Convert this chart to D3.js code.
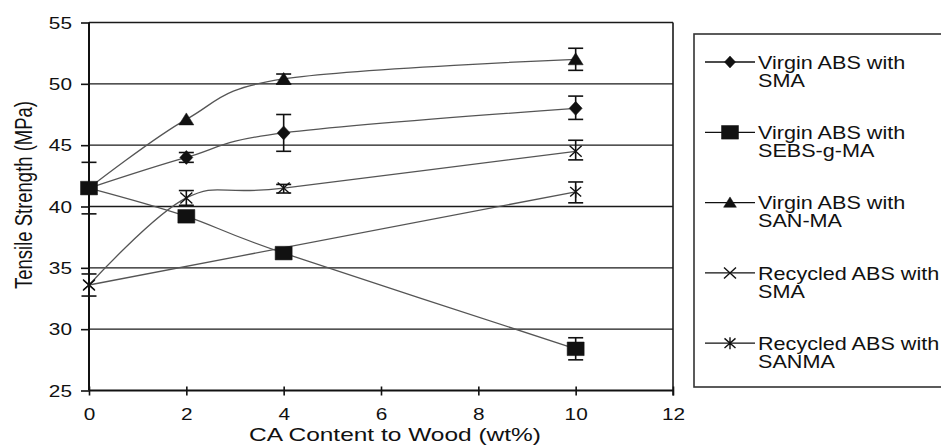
<!DOCTYPE html>
<html><head><meta charset="utf-8">
<script src="https://cdn.jsdelivr.net/npm/d3@7"></script>
<style>body{margin:0;background:#fff}svg{display:block}text{font-family:"Liberation Sans",Arial,sans-serif;fill:#111}</style>
</head><body><svg id="c" width="941" height="446"></svg>
<script>
// ---- data ----
const xTicks = [0, 2, 4, 6, 8, 10, 12];
const yTicks = [25, 30, 35, 40, 45, 50, 55];
const xVals = [0, 2, 4, 10];
const seriesNames = ["Virgin ABS with|SMA", "Virgin ABS with|SEBS-g-MA", "Virgin ABS with|SAN-MA", "Recycled ABS with|SMA", "Recycled ABS with|SANMA"];
const markers = ["diamond", "square", "triangle", "x", "star"];
const virginSMA = [41.5, 44.0, 46.0, 48.0];
const virginSMAErrLow = [39.4, 43.6, 44.5, 47.1];
const virginSMAErrHigh = [43.6, 44.4, 47.5, 49.0];
const virginSEBS = [41.5, 39.2, 36.2, 28.4];
const virginSEBSErrLow = [null, null, null, 27.5];
const virginSEBSErrHigh = [null, null, null, 29.3];
const virginSAN = [41.5, 47.1, 50.4, 52.0];
const virginSANErrLow = [null, null, 50.0, 51.1];
const virginSANErrHigh = [null, null, 50.8, 52.9];
const recycledSMA = [33.6, 40.7, 41.5, 44.5];
const recycledSMAErrLow = [32.7, 40.1, 41.1, 43.8];
const recycledSMAErrHigh = [34.5, 41.3, 41.8, 45.4];
const recSANMAx = [0, 10];
const recycledSANMA = [33.6, 41.2];
const recycledSANMAErrLow = [null, 40.3];
const recycledSANMAErrHigh = [null, 42.0];

const series = [
  {xs: xVals, ys: virginSMA, lo: virginSMAErrLow, hi: virginSMAErrHigh},
  {xs: xVals, ys: virginSEBS, lo: virginSEBSErrLow, hi: virginSEBSErrHigh},
  {xs: xVals, ys: virginSAN, lo: virginSANErrLow, hi: virginSANErrHigh},
  {xs: xVals, ys: recycledSMA, lo: recycledSMAErrLow, hi: recycledSMAErrHigh},
  {xs: recSANMAx, ys: recycledSANMA, lo: recycledSANMAErrLow, hi: recycledSANMAErrHigh}
].map((s, i) => ({...s, name: seriesNames[i], marker: markers[i]}));

// ---- layout ----
const svg = d3.select("#c");
const L = 89, R = 673, T = 22.5, B = 390.5;
const x = d3.scaleLinear().domain([0, 12]).range([L, R]);
const y = d3.scaleLinear().domain([25, 55]).range([B, T]);
const SX = 1.3;

function markerPath(type, big) {
  const p = d3.path();
  const k = big ? 1 : 0.85;
  if (type === "diamond") { const w = 6.5*k, h = 7*k; p.moveTo(0,-h); p.lineTo(w,0); p.lineTo(0,h); p.lineTo(-w,0); p.closePath(); }
  else if (type === "square") { const w = 8.5, h = 6.8; p.rect(-w,-h,2*w,2*h); }
  else if (type === "triangle") { const w = 7.5*k, h = 5.5*k; p.moveTo(0,-h-1); p.lineTo(w,h); p.lineTo(-w,h); p.closePath(); }
  else if (type === "x") { const w = 6, h = 5.5; p.moveTo(-w,-h); p.lineTo(w,h); p.moveTo(w,-h); p.lineTo(-w,h); }
  else { const w = 5.5, h = 6; p.moveTo(-w,-h*0.8); p.lineTo(w,h*0.8); p.moveTo(w,-h*0.8); p.lineTo(-w,h*0.8); p.moveTo(0,-h); p.lineTo(0,h); }
  return p.toString();
}
const filled = t => t === "diamond" || t === "square" || t === "triangle";

// gridlines
svg.append("g").selectAll("line").data(yTicks.filter(v => v > 25)).join("line")
  .attr("x1", L).attr("x2", R).attr("y1", d => y(d)).attr("y2", d => y(d))
  .attr("stroke", "#1a1a1a").attr("stroke-width", 1.4);
// right frame
svg.append("line").attr("x1", R).attr("x2", R).attr("y1", T).attr("y2", B + 5)
  .attr("stroke", "#1a1a1a").attr("stroke-width", 1.6);

// lines
const line = d3.line().curve(d3.curveCatmullRom.alpha(0)).x(d => x(d[0])).y(d => y(d[1]));
svg.append("g").selectAll("path").data(series).join("path")
  .attr("d", s => line(s.xs.map((v, i) => [v, s.ys[i]])))
  .attr("fill", "none").attr("stroke", "#555").attr("stroke-width", 1.3);

// error bars
const eb = svg.append("g").attr("stroke", "#111").attr("stroke-width", 1.6);
series.forEach(s => {
  s.xs.forEach((xv, i) => {
    if (s.lo[i] == null) return;
    const cx = x(xv), y1 = y(s.lo[i]), y2 = y(s.hi[i]);
    eb.append("line").attr("x1", cx).attr("x2", cx).attr("y1", y1).attr("y2", y2);
    eb.append("line").attr("x1", cx - 7.5).attr("x2", cx + 7.5).attr("y1", y1).attr("y2", y1);
    eb.append("line").attr("x1", cx - 7.5).attr("x2", cx + 7.5).attr("y1", y2).attr("y2", y2);
  });
});

// markers
series.forEach(s => {
  svg.append("g").selectAll("path").data(s.xs.map((v, i) => [v, s.ys[i]])).join("path")
    .attr("transform", d => `translate(${x(d[0])},${y(d[1])})`)
    .attr("d", markerPath(s.marker, true))
    .attr("fill", filled(s.marker) ? "#111" : "none")
    .attr("stroke", "#111").attr("stroke-width", filled(s.marker) ? 0.5 : 1.4);
});

// axes
const yAxis = svg.append("g").attr("transform", `translate(${L},0)`)
  .call(d3.axisLeft(y).tickValues(yTicks).tickSize(8).tickFormat(d3.format("d")));
yAxis.select(".domain").remove();
yAxis.selectAll("line").attr("stroke", "#111").attr("stroke-width", 1.6);
yAxis.selectAll("text").attr("x", 0).attr("dy", "0.36em")
  .attr("transform", `translate(-17,0) scale(${SX},1)`).style("font-size", "16px").style("font-family", "Liberation Sans, Arial, sans-serif").attr("fill", "#111");

const xAxis = svg.append("g").attr("transform", `translate(0,${B})`)
  .call(d3.axisBottom(x).tickValues(xTicks).tickSize(5).tickFormat(d3.format("d")));
xAxis.select(".domain").remove();
xAxis.selectAll("line").attr("y1", -4).attr("stroke", "#111").attr("stroke-width", 1.6);
xAxis.selectAll("text").attr("y", 0).attr("dy", 0)
  .attr("transform", `translate(0,29) scale(${SX},1)`).style("font-size", "16px").style("font-family", "Liberation Sans, Arial, sans-serif").attr("fill", "#111");

svg.append("line").attr("x1", L).attr("x2", L).attr("y1", T).attr("y2", B).attr("stroke", "#111").attr("stroke-width", 2);
svg.append("line").attr("x1", L).attr("x2", R).attr("y1", B).attr("y2", B).attr("stroke", "#111").attr("stroke-width", 2);

// axis titles
svg.append("text").attr("text-anchor", "middle")
  .attr("transform", `translate(395,441) scale(1.36,1)`).style("font-size", "18px").text("CA Content to Wood (wt%)");
svg.append("text").attr("text-anchor", "middle")
  .attr("transform", `translate(31.5,195) scale(1.3,1) rotate(-90)`).style("font-size", "18.5px").text("Tensile Strength (MPa)");

// legend
svg.append("rect").attr("x", 694).attr("y", 34).attr("width", 260).attr("height", 353)
  .attr("fill", "none").attr("stroke", "#333").attr("stroke-width", 1.6);
series.forEach((s, i) => {
  const cy = 62 + i * 70.3;
  const g = svg.append("g");
  g.append("line").attr("x1", 705).attr("x2", 755).attr("y1", cy).attr("y2", cy).attr("stroke", "#111").attr("stroke-width", 1.3);
  g.append("path").attr("transform", `translate(730,${cy})`).attr("d", markerPath(s.marker, false))
    .attr("fill", filled(s.marker) ? "#111" : "none").attr("stroke", "#111").attr("stroke-width", filled(s.marker) ? 0.5 : 1.4);
  s.name.split("|").forEach((t, j) => {
    g.append("text").attr("transform", `translate(758,${cy + 6.8 + j * 18}) scale(1.2,1)`).style("font-size", "18px").text(t);
  });
});
</script></body></html>
